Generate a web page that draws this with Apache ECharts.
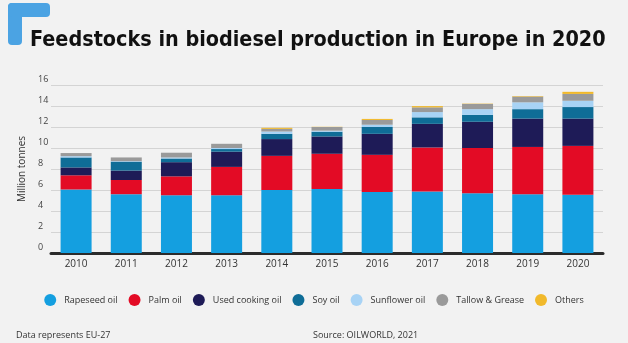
<!DOCTYPE html>
<html>
<head>
<meta charset="utf-8">
<script src="https://cdn.jsdelivr.net/npm/echarts@6/dist/echarts.min.js"></script>
<style>
html,body{margin:0;padding:0;background:#fbfbfb;}
#c{width:628px;height:343px;}
</style>
</head>
<body>
<div id="c"></div>
<script>
const years = ['2010','2011','2012','2013','2014','2015','2016','2017','2018','2019','2020'];
const rapeseed  = [6.05, 5.6, 5.5, 5.5, 6.0, 6.1, 5.8, 5.85, 5.7, 5.6, 5.55];
const palm      = [1.35, 1.35, 1.8, 2.7, 3.25, 3.35, 3.55, 4.2, 4.3, 4.5, 4.65];
const usedCooking = [0.75, 0.9, 1.35, 1.45, 1.6, 1.65, 2.0, 2.25, 2.5, 2.7, 2.6];
const soy       = [0.95, 0.85, 0.35, 0.25, 0.5, 0.45, 0.65, 0.62, 0.65, 0.9, 1.1];
const sunflower = [0.12, 0.05, 0.1, 0.1, 0.22, 0.1, 0.22, 0.5, 0.55, 0.65, 0.6];
const tallow    = [0.3, 0.35, 0.45, 0.4, 0.25, 0.35, 0.45, 0.45, 0.5, 0.55, 0.65];
const others    = [0, 0, 0, 0, 0.1, 0.02, 0.1, 0.12, 0.03, 0.05, 0.2];
const yTicks = [0, 16, 2];

const seriesDefs = [
  ['Rapeseed oil', rapeseed, '#149fe0'],
  ['Palm oil', palm, '#e30b25'],
  ['Used cooking oil', usedCooking, '#1e1b57'],
  ['Soy oil', soy, '#0f6d97'],
  ['Sunflower oil', sunflower, '#a8d3f5'],
  ['Tallow & Grease', tallow, '#9a9a9a'],
  ['Others', others, '#f1b92b']
];

const chart = echarts.init(document.getElementById('c'), null, {renderer:'canvas'});
chart.setOption({
  backgroundColor: '#f2f2f2',
  animation: false,
  textStyle: {fontFamily: 'Open Sans'},
  title: {
    text: 'Feedstocks in biodiesel production in Europe in 2020',
    left: 30, top: 30, padding: 0,
    textStyle: {fontFamily: "'DejaVu Sans Condensed', Roboto", fontWeight: 'bold', fontSize: 21.4, color: '#111'}
  },
  graphic: [
    {type:'rect', left: 8, top: 3, shape:{width:14, height:42, r:4}, style:{fill:'#4ba3e3'}},
    {type:'rect', left: 8, top: 3, shape:{width:42, height:14, r:4}, style:{fill:'#4ba3e3'}},
    {type:'text', left: 16, top: 331, style:{text:'Data represents EU-27', fontSize: 9, fill:'#333', fontFamily:'Open Sans'}},
    {type:'text', left: 313, top: 331, style:{text:'Source: OILWORLD, 2021', fontSize: 9, fill:'#333', fontFamily:'Open Sans'}}
  ],
  legend: {
    top: 289, left: 'center',
    icon: 'circle', itemWidth: 12, itemHeight: 12, itemGap: 11,
    textStyle: {fontSize: 9, color: '#333', fontFamily: 'Open Sans', padding: [0,0,0,3]},
    data: seriesDefs.map(d => d[0])
  },
  grid: {left: 51, right: 25, top: 85, bottom: 90},
  xAxis: {
    type: 'category', data: years,
    axisLine: {lineStyle: {color: '#2b2b2b', width: 3}},
    axisTick: {show: false},
    axisLabel: {fontSize: 10, color: '#333', margin: 6}
  },
  yAxis: {
    type: 'value', min: yTicks[0], max: yTicks[1], interval: yTicks[2],
    name: 'Million tonnes', nameLocation: 'middle', nameGap: 20, nameRotate: 90,
    nameTextStyle: {fontSize: 10, color: '#333'},
    axisLine: {show: false}, axisTick: {show: false},
    axisLabel: {fontSize: 9, color: '#444', align: 'left', margin: 13, verticalAlign: 'bottom', lineHeight: 12},
    splitLine: {lineStyle: {color: '#d4d4d4', width: 1}}
  },
  series: seriesDefs.map(d => ({
    name: d[0], type: 'bar', stack: 'total', data: d[1], barWidth: 31,
    itemStyle: {color: d[2]}
  }))
});
</script>
</body>
</html>
